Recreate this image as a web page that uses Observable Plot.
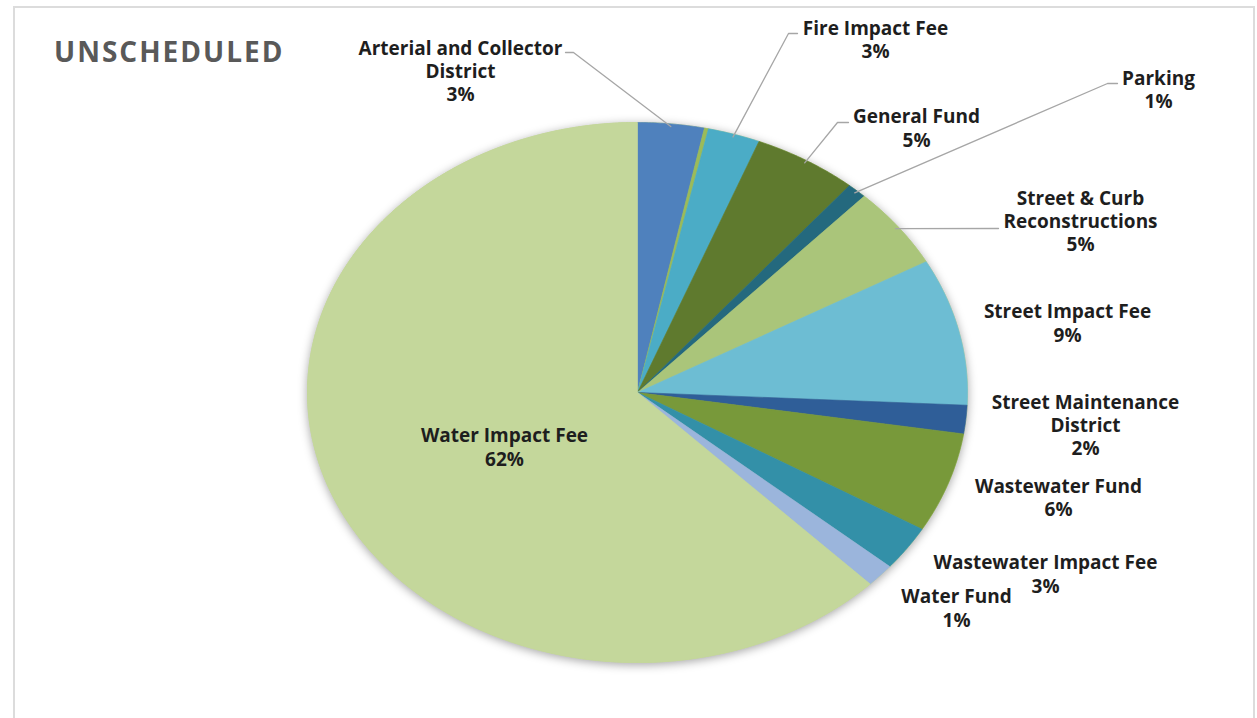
<!DOCTYPE html>
<html><head><meta charset="utf-8">
<script src="https://cdn.jsdelivr.net/npm/d3@7"></script>
<script src="https://cdn.jsdelivr.net/npm/@observablehq/plot@0.6"></script>
<style>
body{margin:0;background:#fff;}
#wrap{position:relative;width:1257px;height:718px;overflow:hidden;font-family:"Open Sans",sans-serif;}
#border{position:absolute;left:13px;top:6px;width:1242px;height:740px;border:2px solid #dcdcdc;box-sizing:border-box;}
#title{position:absolute;left:54px;top:32px;font-size:28px;font-weight:700;color:#595959;letter-spacing:2px;line-height:normal;white-space:nowrap;}
#chart{position:absolute;left:0;top:0;}
</style></head>
<body><div id="wrap"><div id="border"></div><div id="chart"></div><div id="title">UNSCHEDULED</div></div>
<script>
// ---- data ----
const categories = ["Arterial and Collector District","Other","Fire Impact Fee","General Fund","Parking","Street & Curb Reconstructions","Street Impact Fee","Street Maintenance District","Wastewater Fund","Wastewater Impact Fee","Water Fund","Water Impact Fee"];
const values = [3.25, 0.2, 2.55, 5.1, 0.95, 4.9, 8.8, 1.7, 6.0, 2.7, 1.4, 62.45];
const pctLabels = ["3%","","3%","5%","1%","5%","9%","2%","6%","3%","1%","62%"];
const labelText = ["Arterial and Collector\nDistrict","","Fire Impact Fee","General Fund","Parking","Street & Curb\nReconstructions","Street Impact Fee","Street Maintenance\nDistrict","Wastewater Fund","Wastewater Impact Fee","Water Fund","Water Impact Fee"];
const colors = ["#4F81BD","#9BBB59","#4BACC6","#5F7A2E","#24697E","#AAC57A","#6DBDD3","#2F5E98","#78993A","#3390A8","#9BB5DC","#C4D79B"];

// ---- layout ----
const CX = 637, CY = 392, RX = 330, RY = 270;
const labelPos = [[460,70],null,[875,38.5],[916,127],[1158,88.5],[1080,220],[1067,322],[1085,424],[1058,496.5],[1045,573],[956,607],[504,446]];
const leaderElbows = [[[565,52],[573,52]],null,[[797,33],[788,33]],[[848,122],[837,122]],[[1117,83],[1107,83]],[[998,228]],null,null,null,null,null,null];
const toX = px => (px - CX) / RX, toY = py => (CY - py) / RY;

const total = d3.sum(values);
let cum = 0;
const slices = categories.map((name, i) => {
  const a0 = cum / total * 2 * Math.PI;
  cum += values[i];
  const a1 = cum / total * 2 * Math.PI;
  return {name, i, a0, a1, mid: (a0 + a1) / 2};
});

function arcPoints(name, a0, a1, withCenter) {
  const pts = withCenter ? [{name, x: 0, y: 0}] : [];
  const n = Math.max(2, Math.ceil((a1 - a0) / (Math.PI / 360)));
  for (let k = 0; k <= n; k++) {
    const t = a0 + (a1 - a0) * k / n;
    pts.push({name, x: Math.sin(t), y: Math.cos(t)});
  }
  if (withCenter) pts.push({name, x: 0, y: 0});
  return pts;
}
const outline = arcPoints("pie", 0, 2 * Math.PI, false);
const polys = slices.flatMap(s => arcPoints(s.name, s.a0, s.a1, true));

const labels = slices.filter(s => labelPos[s.i]).map(s => ({
  x: toX(labelPos[s.i][0]), y: toY(labelPos[s.i][1]),
  text: labelText[s.i] + "\n" + pctLabels[s.i]
}));

const leaders = [];
for (const s of slices) {
  const el = leaderElbows[s.i];
  if (!el) continue;
  for (const p of el) leaders.push({name: s.name, x: toX(p[0]), y: toY(p[1])});
  leaders.push({name: s.name, x: 0.99 * Math.sin(s.mid), y: 0.99 * Math.cos(s.mid)});
}

const chart = Plot.plot({
  width: 1257, height: 718,
  x: {domain: [-1, 1], range: [CX - RX, CX + RX], axis: null},
  y: {domain: [-1, 1], range: [CY + RY, CY - RY], axis: null},
  color: {domain: categories, range: colors},
  style: {background: "transparent", overflow: "visible"},
  marks: [
    Plot.line(outline, {x: "x", y: "y", fill: "#C4D79B", stroke: "#C4D79B", strokeWidth: 1}),
    Plot.line(polys, {x: "x", y: "y", z: "name", fill: "name", stroke: "name", strokeWidth: 0.6}),
    Plot.line(leaders, {x: "x", y: "y", z: "name", stroke: "#a6a6a6", strokeWidth: 1.3}),
    Plot.text(labels, {x: "x", y: "y", text: "text", fontSize: 19, fontWeight: 700, fontFamily: "Open Sans", lineHeight: 1.22, fill: "#1e1e1e", textAnchor: "middle"})
  ]
});
const lineGroups = chart.querySelectorAll('g[aria-label="line"]');
if (lineGroups[0]) lineGroups[0].style.filter = "drop-shadow(0px 2px 5px rgba(0,0,0,0.35))";
document.getElementById("chart").appendChild(chart);
</script>
</body></html>
